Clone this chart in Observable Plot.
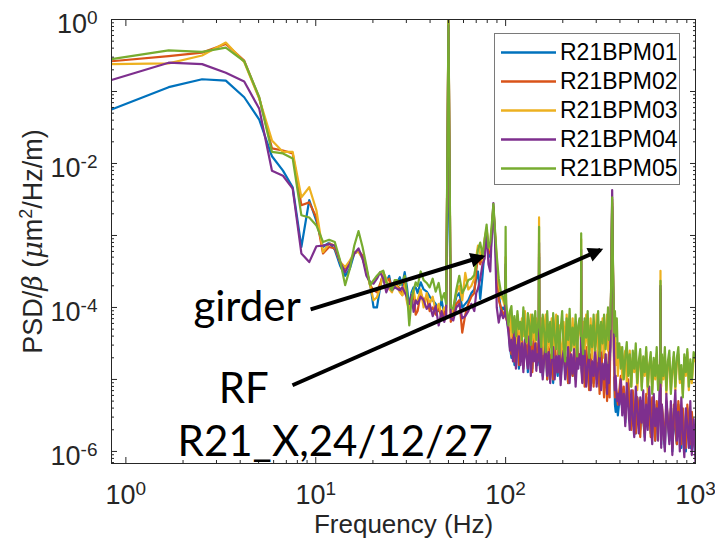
<!DOCTYPE html>
<html>
<head>
<meta charset="utf-8">
<script src="https://cdn.jsdelivr.net/npm/d3@7"></script>
<script src="https://cdn.jsdelivr.net/npm/@observablehq/plot@0.6"></script>
<style>
  body { margin: 0; background: #fff; }
  #chart { position: relative; width: 715px; height: 548px; }
  #legend {
    position: absolute; left: 494px; top: 33px; width: 184px; height: 150px;
    border: 1px solid #7a7a7a; background: #fff;
    font-family: "Liberation Sans", Arial, sans-serif; font-size: 23px; color: #000;
  }
  #legend .row { position: absolute; left: 0; height: 29px; display: flex; align-items: center; }
  #legend .row span { margin-left: 3px; }
</style>
</head>
<body>
<div id="chart"></div>
<script>
// BPM names and MATLAB default line colours
const seriesNames = ["R21BPM01", "R21BPM02", "R21BPM03", "R21BPM04", "R21BPM05"];
const seriesColors = ["#0072BD", "#D95319", "#EDB120", "#7E2F8E", "#77AC30"];

// Frequency axis of the spectra (Hz)
const freqLow = [
  0.84, 1.68, 2.52, 3.36, 4.2, 5.04, 5.88, 6.72, 7.56, 8.4, 9.24, 10.08, 10.92, 11.76, 12.6, 13.44, 14.28, 15.12, 15.96, 16.8,
  17.64, 18.48, 19.32, 20.16, 21, 21.84, 22.68, 23.52, 24.36, 25.2, 26.04, 26.88, 27.72, 28.56, 29.4, 30.24, 31.08, 31.92, 32.76, 33.6,
  34.4, 35.7, 37, 38.4, 39.8, 41.3, 42.8, 44.4, 46, 47.5, 48.6, 50, 51.4, 53, 55, 57, 59.1, 61.3, 63.6, 66,
  68.4, 70, 71.5, 73.5, 75.6, 77.5, 79.4, 81.2, 83, 84.8, 86.2, 87.8, 89.8, 92, 94.5, 97, 99.4, 100, 100.6
];
const freqHigh = [
  103.5, 105.4, 107.3, 109.3, 111.3, 113.3, 115.4, 117.5, 119.6, 121.8,
  124, 126.3, 128.6, 130.9, 133.3, 135.7, 138.2, 140.7, 143.3, 145.1,
  147, 149.4, 150, 150.6, 152.3, 154, 156.8, 159.7, 162.6, 165.6,
  168.6, 171.7, 174.8, 178, 181.3, 184.6, 188, 191.4, 194.9, 198.5,
  202.1, 205.8, 209.6, 213.4, 217.3, 221.3, 225.4, 229.5, 233.7, 238,
  241.5, 245, 249.4, 250, 250.6, 253.3, 256, 260.7, 265.5, 270.4,
  275.3, 280.4, 285.5, 290.7, 296, 301.5, 307, 312.6, 318.3, 324.1,
  330, 336.1, 342.2, 346.1, 350, 353, 356, 360, 364, 368,
  373, 376.5, 380, 385, 390, 397, 404, 411.4, 419, 426.7,
  434.5, 442.5, 450.6, 458.9, 467.3, 475.9, 484.6, 493.5, 502.5, 511.7,
  521, 530.6, 540.3, 550.2, 560.3, 570.6, 581, 591.7, 602.5, 613.5,
  624.8, 635.3, 646, 653.4, 654, 654.6, 659.8, 665, 677.2, 689.6,
  702.2, 715.1, 728.2, 741.6, 755.2, 769, 783.1, 797.5, 812.2, 827,
  842.2, 857.6, 873.3, 889.3, 905.6, 922.2, 939.1, 956.3, 978, 1000
];
const freq = freqLow.concat(freqHigh);

// log10 of PSD/beta (um^2/Hz/m) for each BPM, one value per frequency
const logPsd01 = [
  -1.25, -0.94, -0.83, -0.85, -1.08, -1.39, -1.90, -2.10, -2.33, -3.16, -2.51, -2.80, -3.16, -3.10, -3.20, -3.42, -3.56, -3.46, -3.25, -3.21,
  -3.32, -3.49, -3.67, -4.00, -4.00, -3.72, -3.51, -3.65, -3.56, -3.76, -3.72, -3.65, -3.58, -3.69, -3.51, -3.72, -4.00, -3.79, -3.72, -3.72,
  -3.80, -3.65, -3.75, -3.78, -3.85, -3.90, -3.95, -4.05, -3.90, -4.10, -4.00, -1.54, -4.05, -4.05, -3.85, -3.80, -4.00, -3.95, -3.90, -3.80,
  -3.75, -3.60, -3.50, -3.88, -3.55, -3.20, -2.95, -3.25, -3.30, -2.95, -2.65, -3.00, -3.50, -3.80, -4.05, -4.00, -4.05, -3.50, -4.10,
  -4.30, -4.55, -4.70, -4.40, -4.80, -4.50, -4.35, -4.85, -4.60, -4.45, -4.82, -4.55, -4.40, -4.90, -4.65, -4.50, -4.85, -4.45, -4.70, -4.55, -4.80,
  -4.60, -3.30, -4.65,
  -4.85, -4.50, -4.95, -4.65, -4.55, -5.00, -4.60, -4.85, -4.70, -5.05, -4.55, -4.80, -4.95, -4.60, -5.00, -4.70, -4.55, -4.90, -4.75, -5.05,
  -4.60, -4.85, -4.95, -4.65, -5.00, -4.55, -4.80, -4.70,
  -4.75, -3.35, -4.80,
  -4.95, -4.65, -5.05, -4.60, -4.90, -5.10, -4.70, -4.80, -5.05, -4.65, -4.95, -4.75, -5.10, -4.60, -4.90, -5.05, -4.70, -4.85, -5.10, -4.65,
  -4.90, -4.55,
  -3.70, -2.60, -3.70,
  -4.80, -5.35, -5.45, -5.25, -5.50, -5.30,
  -5.05, -5.45, -5.15, -5.60, -5.25, -5.05, -5.55, -5.65, -5.20, -5.50, -5.75, -5.25, -5.45, -5.70, -5.30, -5.55, -5.80, -5.25, -5.60, -5.40,
  -5.75, -5.30, -5.50, -5.85, -5.35, -5.60, -5.30,
  -5.35, -3.80, -5.40,
  -5.90, -5.40, -5.65, -5.95, -5.35, -5.55, -5.85, -5.45, -6.00, -5.40, -5.70, -5.90, -5.35, -5.65, -5.95, -5.45, -5.80, -6.00, -5.40, -5.70,
  -5.95, -5.50, -5.85, -6.05
];
const logPsd02 = [
  -0.58, -0.51, -0.46, -0.34, -0.57, -1.09, -1.79, -1.82, -1.86, -2.58, -2.54, -2.75, -3.25, -3.16, -3.18, -3.37, -3.46, -3.37, -3.25, -3.21,
  -3.28, -3.46, -3.69, -3.76, -3.79, -3.67, -3.53, -3.65, -3.60, -3.74, -3.65, -3.70, -3.74, -3.83, -3.62, -3.90, -3.95, -3.93, -3.79, -4.10,
  -4.05, -3.80, -3.90, -3.85, -4.05, -4.00, -4.10, -4.00, -4.15, -4.05, -4.15, 0.00, -4.20, -4.10, -3.95, -3.90, -4.35, -4.10, -3.95, -3.85,
  -3.80, -3.50, -3.30, -3.40, -3.30, -3.10, -2.92, -3.20, -3.25, -2.90, -2.62, -2.95, -3.40, -3.90, -4.00, -4.10, -4.05, -3.45, -4.15,
  -4.25, -4.50, -4.65, -4.35, -4.75, -4.45, -4.30, -4.80, -4.55, -4.40, -4.85, -4.50, -4.35, -4.80, -4.60, -4.45, -4.90, -4.40, -4.65, -4.50, -4.75,
  -4.55, -3.25, -4.60,
  -4.80, -4.45, -4.90, -4.60, -4.50, -5.00, -4.55, -4.80, -4.65, -5.00, -4.50, -4.75, -4.90, -4.55, -4.95, -4.65, -4.50, -4.85, -4.70, -5.05,
  -4.55, -4.80, -4.95, -4.60, -5.00, -4.50, -4.75, -4.65,
  -4.70, -3.30, -4.75,
  -5.00, -4.60, -5.10, -4.55, -4.85, -5.15, -4.65, -4.80, -5.10, -4.60, -5.00, -4.70, -5.20, -4.55, -4.90, -5.25, -4.65, -5.30, -5.05, -4.60,
  -5.25, -4.45,
  -3.65, -2.50, -3.60,
  -4.90, -5.25, -5.10, -5.20, -5.35, -5.15,
  -4.95, -5.40, -5.10, -5.55, -5.20, -5.00, -5.50, -5.70, -5.15, -5.45, -5.75, -5.25, -5.40, -5.80, -5.30, -5.55, -5.75, -5.20, -5.60, -5.35,
  -5.80, -5.25, -5.55, -5.85, -5.30, -5.65, -5.30,
  -5.35, -3.75, -5.40,
  -5.85, -5.35, -5.60, -5.90, -5.30, -5.55, -5.80, -5.40, -5.95, -5.35, -5.65, -5.90, -5.30, -5.60, -5.90, -5.40, -5.75, -5.95, -5.35, -5.65,
  -5.90, -5.45, -5.80, -6.00
];
const logPsd03 = [
  -0.62, -0.61, -0.50, -0.32, -0.59, -1.10, -1.68, -1.84, -1.84, -2.47, -2.33, -2.65, -3.23, -3.11, -3.14, -3.37, -3.44, -3.35, -3.23, -3.23,
  -3.32, -3.49, -3.69, -3.90, -3.86, -3.72, -3.51, -3.60, -3.74, -3.79, -3.65, -3.72, -3.79, -3.83, -3.69, -3.93, -4.04, -3.86, -3.76, -3.93,
  -3.90, -3.75, -4.00, -3.80, -3.95, -3.85, -4.05, -3.95, -4.10, -4.00, -4.05, -0.04, -4.10, -4.00, -3.80, -3.70, -3.90, -3.52, -3.75, -3.70,
  -3.60, -3.30, -3.14, -3.25, -3.35, -3.05, -2.90, -3.15, -3.20, -2.85, -2.60, -2.95, -3.35, -3.70, -3.85, -3.90, -4.00, -3.30, -4.05,
  -4.20, -4.05, -4.40, -4.15, -4.30, -4.50, -4.10, -4.35, -4.55, -4.15, -4.40, -4.05, -4.50, -4.25, -4.60, -4.10, -4.45, -4.20, -4.55, -4.15, -4.40,
  -4.20, -2.75, -4.25,
  -4.55, -4.15, -4.65, -4.30, -4.10, -4.70, -4.25, -4.55, -4.15, -4.75, -4.35, -4.10, -4.65, -4.25, -4.50, -4.80, -4.20, -4.60, -4.10, -4.70,
  -4.30, -4.55, -4.15, -4.75, -4.25, -4.60, -4.35, -4.20,
  -4.45, -3.05, -4.40,
  -4.60, -4.20, -4.75, -4.10, -4.50, -4.65, -4.15, -4.70, -4.30, -4.55, -4.10, -4.75, -4.25, -4.60, -4.15, -4.70, -4.35, -4.10, -4.60, -4.25,
  -4.50, -4.40,
  -3.65, -2.55, -3.55,
  -4.95, -4.20, -4.80, -4.50, -4.95, -4.60,
  -4.55, -5.00, -4.70, -4.60, -5.05, -4.75, -4.60, -5.10, -4.70, -4.90, -4.60, -5.15, -4.80, -4.65, -5.10, -4.75, -4.95, -4.62, -5.20, -4.80,
  -4.70, -5.15, -4.75, -5.00, -4.65, -5.10, -4.85,
  -4.85, -3.49, -4.85,
  -5.10, -4.70, -5.00, -4.65, -5.20, -4.80, -4.70, -5.15, -4.90, -4.68, -5.15, -4.75, -4.65, -5.05, -4.85, -5.20, -4.70, -4.95, -4.62, -5.15,
  -4.78, -5.05, -4.70, -4.75
];
const logPsd04 = [
  -0.84, -0.60, -0.62, -0.74, -0.86, -1.24, -2.10, -2.17, -2.35, -3.25, -3.37, -3.15, -3.14, -3.12, -3.14, -3.37, -3.51, -3.39, -3.25, -3.18,
  -3.32, -3.56, -3.65, -3.67, -3.60, -3.51, -3.60, -3.79, -3.69, -3.76, -3.72, -3.74, -3.76, -3.72, -3.79, -3.86, -3.95, -3.83, -4.06, -3.90,
  -3.95, -3.85, -3.90, -4.02, -3.95, -4.12, -3.98, -4.25, -4.05, -4.20, -4.10, -0.08, -4.15, -4.18, -4.00, -3.95, -4.15, -4.12, -4.05, -3.95,
  -4.05, -3.80, -3.74, -3.60, -3.40, -3.32, -2.95, -3.40, -3.50, -2.90, -2.55, -3.00, -4.00, -4.21, -4.05, -4.15, -4.10, -3.40, -4.10,
  -4.35, -4.60, -4.45, -4.75, -4.30, -4.85, -4.55, -4.40, -4.80, -4.50, -4.90, -4.45, -4.70, -4.85, -4.40, -4.95, -4.60, -4.75, -4.50, -4.88, -4.65,
  -4.70, -3.10, -4.75,
  -4.90, -4.55, -5.00, -4.70, -4.50, -4.95, -4.62, -5.05, -4.75, -4.55, -5.00, -4.68, -4.90, -4.50, -5.08, -4.72, -4.60, -5.00, -4.80, -4.55,
  -5.05, -4.65, -4.92, -4.58, -5.10, -4.70, -4.85, -4.65,
  -4.80, -3.20, -4.85,
  -5.05, -4.70, -4.60, -5.10, -4.80, -4.65, -5.15, -4.75, -4.95, -4.60, -5.10, -4.85, -4.62, -5.15, -4.78, -5.00, -4.65, -5.20, -4.80, -5.05,
  -4.70, -4.55,
  -3.60, -2.37, -3.55,
  -4.70, -5.15, -4.95, -5.30, -5.20, -5.35,
  -5.00, -5.50, -5.20, -5.65, -5.05, -5.40, -5.70, -5.15, -5.55, -5.80, -5.10, -5.45, -5.75, -5.25, -5.60, -5.15, -5.85, -5.35, -5.70, -5.10,
  -5.55, -5.90, -5.20, -5.65, -5.40, -5.85, -5.15,
  -5.20, -3.70, -5.25,
  -5.95, -5.35, -5.70, -6.00, -5.20, -5.60, -5.90, -5.30, -6.05, -5.50, -5.15, -5.85, -5.45, -6.00, -5.25, -5.75, -6.08, -5.40, -5.65, -5.95,
  -5.30, -6.05, -5.55, -6.17
];
const logPsd05 = [
  -0.55, -0.43, -0.45, -0.39, -0.58, -1.08, -1.84, -1.86, -1.93, -2.72, -2.75, -2.86, -3.09, -3.06, -3.09, -3.35, -3.69, -3.46, -3.14, -2.94,
  -3.16, -3.42, -3.69, -3.62, -3.56, -3.51, -3.49, -3.65, -3.69, -3.76, -3.62, -3.62, -3.69, -3.65, -3.56, -3.79, -4.25, -3.90, -3.76, -3.65,
  -3.70, -3.50, -3.62, -3.66, -3.72, -3.60, -3.78, -3.66, -3.90, -3.80, -3.95, 0.00, -4.00, -4.02, -3.75, -3.56, -3.80, -3.72, -3.62, -3.60,
  -3.55, -3.40, -3.20, -3.10, -3.28, -3.05, -2.85, -3.17, -3.10, -2.80, -2.56, -2.90, -3.28, -3.60, -3.79, -3.85, -3.95, -2.88, -3.95,
  -4.25, -4.05, -3.98, -4.35, -4.12, -4.40, -4.05, -4.30, -4.20, -4.45, -4.00, -4.38, -4.48, -4.08, -4.22, -4.52, -4.10, -4.35, -4.05, -4.45, -4.30,
  -4.15, -2.88, -4.20,
  -4.40, -4.55, -4.10, -4.35, -4.62, -4.05, -4.48, -4.20, -4.70, -4.08, -4.40, -4.58, -4.12, -4.65, -4.30, -4.05, -4.55, -4.75, -4.15, -4.45,
  -4.02, -4.60, -4.28, -4.52, -4.10, -4.68, -4.25, -4.15,
  -4.40, -2.97, -4.35,
  -4.50, -4.65, -4.15, -4.42, -4.05, -4.70, -4.25, -4.55, -4.10, -4.60, -4.35, -4.05, -4.68, -4.20, -4.50, -4.10, -4.58, -4.30, -4.00, -4.45,
  -4.15, -4.30,
  -3.60, -2.47, -3.50,
  -4.35, -4.05, -4.40, -4.15, -4.70, -4.50,
  -4.85, -4.55, -5.00, -4.70, -4.48, -4.95, -4.65, -5.10, -4.60, -4.85, -4.50, -5.05, -4.75, -4.58, -5.15, -4.68, -4.90, -4.55, -5.10, -4.80,
  -4.62, -5.20, -4.70, -4.95, -4.55, -5.15, -4.80,
  -4.80, -3.63, -4.80,
  -5.05, -4.65, -4.95, -4.55, -5.15, -4.75, -4.60, -5.20, -4.85, -4.62, -5.10, -4.70, -4.55, -5.00, -4.80, -5.25, -4.65, -4.90, -4.58, -5.10,
  -4.72, -5.00, -4.62, -4.70
];
const logPsd = [logPsd01, logPsd02, logPsd03, logPsd04, logPsd05];

// Axis ticks
const majorX = [1, 10, 100, 1000];
const minorX = [2, 3, 4, 5, 6, 7, 8, 9, 20, 30, 40, 50, 60, 70, 80, 90, 200, 300, 400, 500, 600, 700, 800, 900];
const labeledY = [1e-6, 1e-4, 1e-2, 1];
const majorY = [1e-6, 1e-5, 1e-4, 1e-3, 1e-2, 1e-1, 1];
const yMin = 6.8e-7;
const minorY = [];
for (const decade of [1e-7, 1e-6, 1e-5, 1e-4, 1e-3, 1e-2, 1e-1]) {
  for (const m of [2, 3, 4, 5, 6, 7, 8, 9]) {
    const v = m * decade;
    if (v > yMin && v < 1) minorY.push(v);
  }
}

// Text labels
const xLabel = "Frequency (Hz)";
const yLabel = "PSD/β (μm2/Hz/m)";

// Annotations: label text with its anchor (Hz, PSD) and the arrows
const notesEnd = [{text: "girder", f: 8.34, psd: 1e-4}];
const notesMid = [
  {text: "RF", f: 4.18, psd: 7.3e-6},
  {text: "R21_X,24/12/27", f: 12.66, psd: 1.33e-6}
];
const arrows = [
  {f1: 9.4, p1: 9.4e-5, f2: 75.7, p2: 5.1e-4},
  {f1: 7.54, p1: 8.3e-6, f2: 316, p2: 6.3e-4}
];

// Long-format table for the line mark
const rows = [];
seriesNames.forEach((name, s) => {
  freq.forEach((f, i) => rows.push({series: name, f, psd: 10 ** logPsd[s][i]}));
});

const SVGNS = "http://www.w3.org/2000/svg";
function arrowHead(color, context) {
  const doc = (context && context.document) || document;
  const m = doc.createElementNS(SVGNS, "marker");
  m.setAttribute("viewBox", "0 -5 10 10");
  m.setAttribute("markerUnits", "userSpaceOnUse");
  m.setAttribute("markerWidth", 19);
  m.setAttribute("markerHeight", 15);
  m.setAttribute("refX", 8);
  m.setAttribute("refY", 0);
  m.setAttribute("orient", "auto");
  const p = doc.createElementNS(SVGNS, "path");
  p.setAttribute("d", "M0,-5L10,0L0,5Z");
  p.setAttribute("fill", color);
  p.setAttribute("stroke", "none");
  m.appendChild(p);
  return m;
}

const axisColor = "#262626";
const tickFont = 27;
const expFormat = d => `10^${Math.round(Math.log10(d))}`;
const blank = () => "";
const noteFont = "Lato, 'Open Sans', sans-serif";

const chart = Plot.plot({
  width: 715,
  height: 548,
  marginLeft: 111,
  marginRight: 20,
  marginTop: 19,
  marginBottom: 85,
  style: {fontFamily: '"Liberation Sans", Arial, sans-serif', color: axisColor, background: "white", overflow: "visible"},
  x: {type: "log", domain: [0.84, 1000], axis: null},
  y: {type: "log", domain: [yMin, 1], axis: null},
  color: {domain: seriesNames, range: seriesColors},
  marks: [
    Plot.line(rows, {x: "f", y: "psd", z: "series", stroke: "series", strokeWidth: 2.2, strokeLinejoin: "round", clip: true}),
    // inward ticks on all four sides
    Plot.axisX(majorX, {anchor: "bottom", tickSize: -6, tickFormat: blank, label: null, stroke: axisColor}),
    Plot.axisX(majorX, {anchor: "top", tickSize: -6, tickFormat: blank, label: null, stroke: axisColor}),
    Plot.axisX(minorX, {anchor: "bottom", tickSize: -3, tickFormat: blank, label: null, stroke: axisColor}),
    Plot.axisX(minorX, {anchor: "top", tickSize: -3, tickFormat: blank, label: null, stroke: axisColor}),
    Plot.axisY(majorY, {anchor: "left", tickSize: -6, tickFormat: blank, label: null, stroke: axisColor}),
    Plot.axisY(majorY, {anchor: "right", tickSize: -6, tickFormat: blank, label: null, stroke: axisColor}),
    Plot.axisY(minorY, {anchor: "left", tickSize: -3, tickFormat: blank, label: null, stroke: axisColor}),
    Plot.axisY(minorY, {anchor: "right", tickSize: -3, tickFormat: blank, label: null, stroke: axisColor}),
    // tick labels
    Plot.axisX(majorX, {anchor: "bottom", tickSize: 0, tickPadding: 21, tickFormat: expFormat, fontSize: tickFont, label: null, fill: axisColor}),
    Plot.axisY(labeledY, {anchor: "left", tickSize: 0, tickPadding: 14, dy: 5, tickFormat: expFormat, fontSize: tickFont, label: null, fill: axisColor}),
    Plot.frame({stroke: axisColor, strokeWidth: 1}),
    // axis titles
    Plot.text([xLabel], {frameAnchor: "bottom", dy: 69, text: d => d, fontSize: 26, fill: axisColor}),
    Plot.text([yLabel], {frameAnchor: "left", rotate: -90, dx: -78, textAnchor: "middle", text: d => d, fontSize: 27, fill: axisColor}),
    // annotations
    Plot.link(arrows, {x1: "f1", y1: "p1", x2: "f2", y2: "p2", stroke: "black", strokeWidth: 4, markerEnd: arrowHead}),
    Plot.text(notesEnd, {x: "f", y: "psd", text: "text", textAnchor: "end", fontSize: 42, fontFamily: noteFont, fill: "black"}),
    Plot.text(notesMid, {x: "f", y: "psd", text: "text", textAnchor: "middle", fontSize: 42, fontFamily: noteFont, fill: "black"})
  ]
});

// Rich text: powers of ten as superscripts
function superscriptTicks(svg) {
  svg.querySelectorAll("text").forEach(t => {
    const m = /^10\^(-?\d+)$/.exec(t.textContent);
    if (!m) return;
    t.textContent = "10";
    const sup = document.createElementNS(SVGNS, "tspan");
    sup.setAttribute("font-size", "19");
    sup.setAttribute("dy", "-9");
    sup.textContent = m[1];
    t.appendChild(sup);
  });
}
function richYLabel(svg) {
  svg.querySelectorAll("text").forEach(t => {
    if (t.textContent !== yLabel) return;
    const parts = [
      ["PSD/", {}],
      ["β", {"font-style": "italic", "font-family": "'DejaVu Serif', serif"}],
      [" (", {}],
      ["μ", {"font-style": "italic", "font-family": "'DejaVu Serif', serif"}],
      ["m", {}],
      ["2", {"font-size": "18", "dy": "-10"}],
      ["/Hz/m)", {"dy": "10"}]
    ];
    t.textContent = "";
    for (const [txt, attrs] of parts) {
      const sp = document.createElementNS(SVGNS, "tspan");
      for (const [k, v] of Object.entries(attrs)) sp.setAttribute(k, v);
      sp.textContent = txt;
      t.appendChild(sp);
    }
  });
}
superscriptTicks(chart);
richYLabel(chart);

const host = document.getElementById("chart");
host.appendChild(chart);

// Legend built from the series arrays
const legend = document.createElement("div");
legend.id = "legend";
seriesNames.forEach((name, i) => {
  const row = document.createElement("div");
  row.className = "row";
  row.style.top = (4 + 29 * i) + "px";
  row.innerHTML = `<svg width="62" height="29"><line x1="6" x2="61" y1="14.5" y2="14.5" stroke="${seriesColors[i]}" stroke-width="2.5"/></svg><span>${name}</span>`;
  legend.appendChild(row);
});
host.appendChild(legend);
</script>
</body>
</html>
